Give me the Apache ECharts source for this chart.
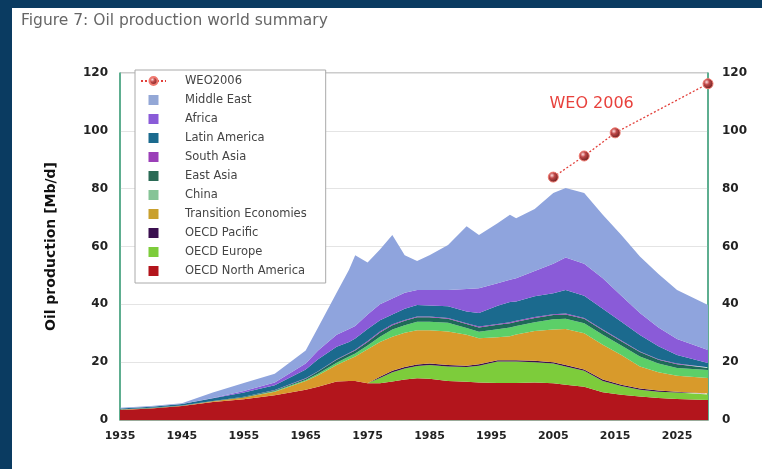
<!DOCTYPE html>
<html>
<head>
<meta charset="utf-8">
<script src="https://cdn.jsdelivr.net/npm/echarts@6/dist/echarts.min.js"></script>
<style>
html,body{margin:0;padding:0;width:762px;height:469px;background:#0a3b61;overflow:hidden;}
#chart{position:absolute;left:12px;top:8px;width:750px;height:461px;background:#ffffff;}
</style>
</head>
<body>
<div id="chart"></div>
<script>
// ---- data ----
const years = [1935,1940,1945,1950,1955,1960,1965,1967,1970,1972,1973,1975,1977,1979,1981,1983,1985,1988,1991,1993,1996,1998,1999,2002,2005,2007,2010,2013,2016,2019,2022,2025,2030];
const oecdNorthAmerica = [3.5,4.0,4.8,6.2,7.2,8.6,10.5,11.5,13.3,13.5,13.5,12.7,12.7,13.3,14.0,14.4,14.3,13.5,13.2,13.0,12.8,12.8,12.8,13.0,12.7,12.2,11.5,9.6,8.7,8.1,7.6,7.3,6.9];
const oecdEurope = [0,0,0,0,0,0,0,0,0,0,0,0,1.8,3.2,3.8,4.3,4.7,5.0,5.1,5.8,7.4,7.4,7.4,7.0,6.8,6.3,5.5,3.9,3.1,2.4,2.2,2.2,1.9];
const oecdPacific = [0,0,0,0,0,0,0,0,0,0,0,0,0.5,0.5,0.5,0.5,0.5,0.5,0.5,0.5,0.5,0.5,0.5,0.5,0.5,0.5,0.5,0.5,0.4,0.4,0.4,0.3,0.4];
const transitionEconomies = [0.1,0.1,0.1,0.3,0.6,1.2,3.0,4.0,5.7,7.5,8.5,11.8,12.0,11.8,11.9,11.8,11.5,11.6,10.7,9.0,7.9,8.3,8.9,10.3,11.3,12.5,12.5,12.0,10.3,7.6,6.3,5.5,5.3];
const china = [0,0,0,0,0,0.2,0.3,0.5,0.8,1.0,1.0,1.3,1.8,2.5,2.6,3.0,3.0,3.0,2.3,2.2,2.8,3.0,2.9,3.0,3.5,3.5,3.5,3.5,3.3,3.5,3.0,2.7,2.8];
const eastAsia = [0,0.1,0.1,0.1,0.2,0.3,0.5,0.8,1.0,1.0,1.0,1.2,1.5,1.5,1.5,1.5,1.5,1.4,1.4,1.5,1.5,1.5,1.5,1.5,1.5,1.5,1.5,1.5,1.4,1.5,1.3,1.3,0.7];
const southAsia = [0,0,0,0,0,0.1,0.1,0.1,0.2,0.2,0.3,0.3,0.3,0.3,0.3,0.3,0.3,0.3,0.3,0.3,0.3,0.3,0.3,0.3,0.3,0.3,0.3,0.3,0.3,0.2,0.2,0.2,0.2];
const latinAmerica = [0.4,0.4,0.5,0.9,1.5,1.6,3.1,4.1,4.3,3.8,3.9,4.2,3.9,3.4,3.9,4.0,3.8,4.0,4.0,4.7,6.3,7.0,6.7,7.2,7.2,8.2,7.7,7.2,6.5,5.7,4.5,3.0,1.5];
const africa = [0,0,0,0.1,0.5,1.0,2.0,3.0,4.2,4.5,4.3,5.0,5.5,5.5,5.5,5.2,5.4,5.7,7.8,8.6,7.8,7.7,8.0,8.7,10.2,11.2,11.0,10.5,9.0,7.6,6.5,5.5,4.5];
const middleEast = [0.2,0.2,0.3,1.9,2.8,3.0,4.5,8.0,14.5,20.5,24.5,18.0,19.0,22.0,13.0,10.0,12.0,15.5,21.7,18.4,20.7,22.5,20.8,21.5,24.5,24.0,24.5,22.0,21.0,19.5,18.5,17.0,15.6];
const weoYears = [2005,2010,2015,2030];
const weoValues = [84,91.3,99.3,116.3];
const yTicks = [0,20,40,60,80,100,120];

const FONT = 'DejaVu Sans';
const stackDefs = [
  ['OECD North America', oecdNorthAmerica, '#b3151c'],
  ['OECD Europe', oecdEurope, '#7dcc3b'],
  ['OECD Pacific', oecdPacific, '#3a0f4f'],
  ['Transition Economies', transitionEconomies, '#d89a2b'],
  ['China', china, '#5ccf68'],
  ['East Asia', eastAsia, '#1e6a58'],
  ['South Asia', southAsia, '#9b3fb8'],
  ['Latin America', latinAmerica, '#1b6a8e'],
  ['Africa', africa, '#8a5bd8'],
  ['Middle East', middleEast, '#8fa4dd']
];
const legendSwatch = {
  'Middle East':'#93a7d6','Africa':'#8a5bd8','Latin America':'#1b6a8e','South Asia':'#9b3fb8',
  'East Asia':'#2a6a55','China':'#86c497','Transition Economies':'#c9a02e','OECD Pacific':'#3a0f4f',
  'OECD Europe':'#7dcc3b','OECD North America':'#b3151c'
};

// data stored as [value, year] so the value dimension is the stacked one
const series = stackDefs.map(([name, arr, color]) => ({
  name, type:'line', stack:'total', data: years.map((y,i)=>[arr[i], y]),
  encode:{x:1, y:0},
  showSymbol:false, symbol:'none', lineStyle:{width:0}, areaStyle:{color:color, opacity:1},
  itemStyle:{color: legendSwatch[name]}, z:2
}));
series.push({
  name:'WEO2006', type:'line', data: weoYears.map((y,i)=>[weoValues[i], y]),
  encode:{x:1, y:0},
  symbol:'circle', symbolSize:10, showSymbol:true,
  lineStyle:{color:'#e2403b', width:1.3, type:[2,2]},
  itemStyle:{color:{type:'radial',x:0.38,y:0.35,r:0.7,colorStops:[{offset:0,color:'#ffdede'},{offset:0.35,color:'#c04848'},{offset:1,color:'#5a1a1a'}]}, borderColor:'#f07a70', borderWidth:1},
  z:5,
  markPoint:{symbol:'circle', symbolSize:0, silent:true,
    label:{show:true, position:'inside', formatter:'WEO 2006', color:'#e8413c', fontSize:16, fontFamily:FONT},
    data:[{coord:[2011.2, 109.5]}]}
});

const legendData = [{name:'WEO2006'}].concat(
  ['Middle East','Africa','Latin America','South Asia','East Asia','China','Transition Economies','OECD Pacific','OECD Europe','OECD North America']
  .map(n => ({name:n, icon:'path://M0,0L10,0L10,10L0,10Z'}))
);

const chart = echarts.init(document.getElementById('chart'));
chart.setOption({
  animation:false,
  title:{text:'Figure 7: Oil production world summary', left:4, top:0,
    textStyle:{fontFamily:FONT, fontSize:15.5, fontWeight:'normal', color:'#666'}},
  legend:{
    orient:'vertical', left:123, top:62, data:legendData,
    backgroundColor:'#fff', borderColor:'#aaa', borderWidth:1, padding:[5,19,6,5],
    itemWidth:25, itemHeight:10, itemGap:7,
    textStyle:{fontFamily:FONT, fontSize:11.5, color:'#444', lineHeight:10, padding:[0,0,0,14]}
  },
  grid:{left:108, right:54, top:65, bottom:49, show:true, borderColor:'#999', borderWidth:1, backgroundColor:'transparent'},
  xAxis:{type:'value', min:1935, max:2030, interval:5,
    axisLine:{show:true, onZero:false, lineStyle:{color:'#9a9', width:1}},
    axisTick:{show:false}, splitLine:{show:false},
    axisLabel:{fontFamily:FONT, fontSize:11, fontWeight:'bold', color:'#222', margin:11,
      showMaxLabel:false,
      formatter: v => ((v-1935)%10===0 && v<=2025) ? String(v) : ''}
  },
  yAxis:[
    {type:'value', min:0, max:120, interval:20, position:'left',
     name:'Oil production [Mb/d]', nameLocation:'middle', nameGap:62,
     nameTextStyle:{fontFamily:FONT, fontSize:14, fontWeight:'bold', color:'#111'},
     axisLine:{show:true, lineStyle:{color:'#3aa57c', width:1.5}}, axisTick:{show:false},
     splitLine:{show:true, lineStyle:{color:'#e4e4e4'}},
     axisLabel:{fontFamily:FONT, fontSize:12, fontWeight:'bold', color:'#222', margin:12,
       formatter: v => yTicks.includes(v) ? String(v) : ''}},
    {type:'value', min:0, max:120, interval:20, position:'right',
     axisLine:{show:true, lineStyle:{color:'#3aa57c', width:1.5}}, axisTick:{show:false},
     splitLine:{show:false},
     axisLabel:{fontFamily:FONT, fontSize:12, fontWeight:'bold', color:'#222', margin:14,
       formatter: v => yTicks.includes(v) ? String(v) : ''}}
  ],
  series
});
</script>
</body>
</html>
